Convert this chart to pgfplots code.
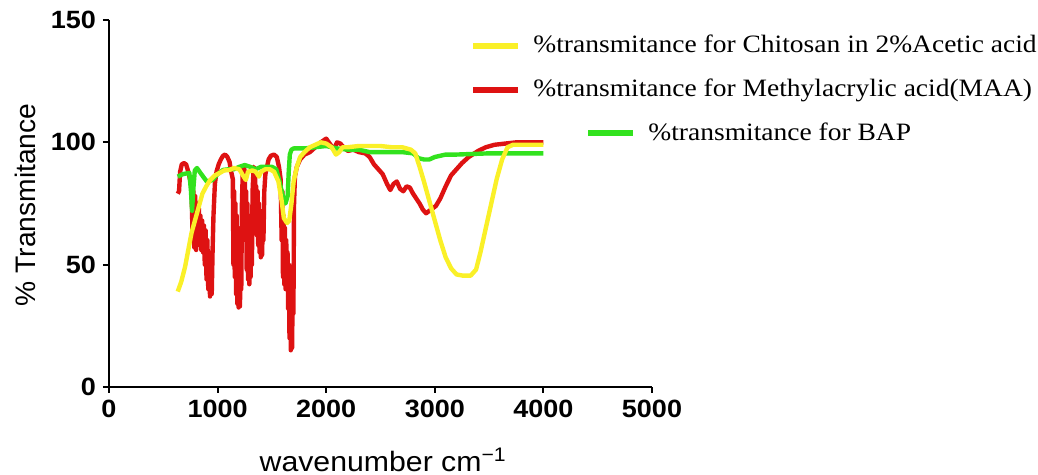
\documentclass[border=0pt]{standalone}
\usepackage{fontspec}
\setmainfont[FakeStretch=1.1]{Liberation Serif}
\setsansfont[FakeStretch=1.08]{Liberation Sans}
\newfontfamily\labelsans{Liberation Sans}
\usepackage{pgfplots}
\usepackage{pgfplotstable}
\pgfplotsset{compat=1.18}

\definecolor{chitosan}{RGB}{250,240,40}
\definecolor{maa}{RGB}{222,18,18}
\definecolor{bap}{RGB}{50,226,30}

% FTIR spectra: wavenumber (cm^-1) vs % transmittance
\pgfplotstableread{
wn T
633 39
665 43
700 49
730 56
760 63
785 67
810 71
835 75
860 79
895 82
930 84.5
975 86.5
1020 87.5
1060 88.5
1110 88.7
1150 89.5
1200 89
1240 86
1260 84.6
1280 88
1320 88.5
1350 88
1380 86
1400 88
1440 89
1480 89
1520 88
1560 84
1590 76
1610 69
1640 67
1660 68
1680 75
1700 84
1730 90
1760 94
1800 96
1850 98
1900 99
1950 100
2000 99.5
2050 98
2090 95
2120 96
2150 98
2200 98
2300 98.5
2400 98.5
2500 98.5
2600 98
2700 98
2780 97
2820 95.5
2860 90
2900 84
2950 76
3000 68
3050 60
3100 53
3150 48.5
3200 46
3260 45.5
3330 45.5
3380 48
3420 55
3470 65
3520 75
3570 85
3620 93
3670 98
3720 99
3850 99
4000 99
}\chitosandata

\pgfplotstableread{
wn T
633 79
645 80
655 88
670 91
690 91.5
710 91
730 88
745 85
760 82
770 60
778 80
786 57
794 78
802 56
810 72
818 62
826 75
834 58
842 70
850 56
858 68
866 55
874 66
882 50
890 64
898 44
906 60
914 40
922 55
930 37
938 50
946 38
954 56
962 70
975 83
990 88
1010 91
1030 93
1050 94.5
1070 95
1090 94
1110 92
1125 88
1140 85
1146 50
1152 80
1158 45
1164 75
1170 38
1176 70
1182 34
1188 65
1194 32.5
1200 60
1206 33
1212 55
1218 40
1224 75
1232 88
1242 90
1250 88
1256 60
1262 80
1268 48
1274 75
1280 44
1286 70
1292 42
1298 65
1304 45
1310 70
1316 50
1322 80
1332 90
1345 88
1350 65
1356 82
1362 62
1368 80
1374 58
1380 75
1386 55
1392 72
1398 53
1404 68
1410 54
1416 70
1422 60
1430 80
1440 87
1455 90
1470 93
1490 94.5
1520 95
1545 94
1565 90
1580 85
1590 60
1596 80
1602 45
1608 70
1614 42
1620 65
1626 40
1632 60
1638 45
1644 55
1650 32
1656 50
1662 20
1668 45
1674 15
1680 40
1686 16
1692 45
1698 30
1704 75
1712 86
1730 90
1760 93
1800 95
1850 96
1900 98
1950 100
2000 101.5
2040 99
2070 97
2100 100
2130 99.5
2160 98
2200 96.5
2250 97
2300 96
2360 95.5
2400 94
2440 91
2480 89
2520 87
2560 83
2590 80.5
2620 83
2650 84
2680 81
2710 80
2740 82
2770 81.5
2800 79
2830 77
2860 75
2890 72.5
2920 71
2950 72
2980 73
3010 74
3050 77
3100 82
3150 86.5
3200 89
3250 91.5
3312 94
3400 96.5
3470 98
3550 99
3650 99.5
3750 100
4000 100
}\maadata

\pgfplotstableread{
wn T
633 86
680 87
740 87.5
755 80
765 72
775 80
790 88.5
810 89.5
850 87
900 84
950 84.5
1000 87
1050 88.7
1100 89
1150 89
1200 90
1250 90.7
1300 90
1350 89
1400 90
1450 90
1500 90
1540 89
1570 84
1600 78
1625 75
1645 78
1655 88
1665 95
1680 97
1700 97.5
1800 97.5
1900 98
2000 98.5
2100 97.5
2200 97
2300 97
2400 96
2500 96
2600 96
2700 96
2800 95.5
2850 93.5
2900 93
2950 93
3000 94
3100 95
3200 95
3500 95.5
4000 95.5
}\bapdata

\newcommand{\legline}[1]{\tikz[baseline]{\draw[#1, line width=3pt] (0pt,3.3pt)--(22.5pt,3.3pt);}\hspace{6pt}}

\begin{document}
\begin{tikzpicture}
\begin{axis}[
  scale only axis,
  width=271.5pt, height=183.5pt,
  xmin=0, xmax=5000, ymin=0, ymax=150,
  clip mode=individual,
  axis x line*=bottom, axis y line*=left,
  axis line style={line width=1pt, -},
  xtick={0,1000,...,5000}, ytick={0,50,100,150},
  tick align=outside, major tick length=3pt,
  tick style={line width=1pt, black},
  tick label style={font=\sffamily\bfseries\fontsize{12.5}{14}\selectfont},
  /pgf/number format/assume math mode=true,
  /pgf/number format/set thousands separator={},
  xlabel={wavenumber cm\textsuperscript{−1}},
  xlabel style={font=\sffamily\fontsize{14}{16}\selectfont,
    at={(axis description cs:0.505,-0.2316)}, anchor=base},
  ylabel={\% Transmitance},
  ylabel style={font=\labelsans\fontsize{14.1}{16}\selectfont,
    at={(axis description cs:-0.1547,0.496)}, anchor=center},
  every axis plot/.append style={line width=2.2pt, line join=round},
]
\addplot[maa, no marks] table[x=wn, y=T] {\maadata};
\addplot[bap, no marks] table[x=wn, y=T] {\bapdata};
\addplot[chitosan, no marks] table[x=wn, y=T] {\chitosandata};

\node[anchor=base west, inner sep=0pt, font=\rmfamily\fontsize{12.5}{14}\selectfont]
  at (axis description cs:0.6648,0.9101) {\legline{chitosan}\%transmitance for Chitosan in 2\%Acetic acid};
\node[anchor=base west, inner sep=0pt, font=\rmfamily\fontsize{12.5}{14}\selectfont]
  at (axis description cs:0.6648,0.7910) {\legline{maa}\%transmitance for Methylacrylic acid(MAA)};
\node[anchor=base west, inner sep=0pt, font=\rmfamily\fontsize{12.5}{14}\selectfont]
  at (axis description cs:0.8766,0.6730) {\legline{bap}\%transmitance for BAP};
\end{axis}
\pgfresetboundingbox
\path (-54.5pt,-44pt) rectangle (464.5pt,193.5pt);
\end{tikzpicture}
\end{document}
